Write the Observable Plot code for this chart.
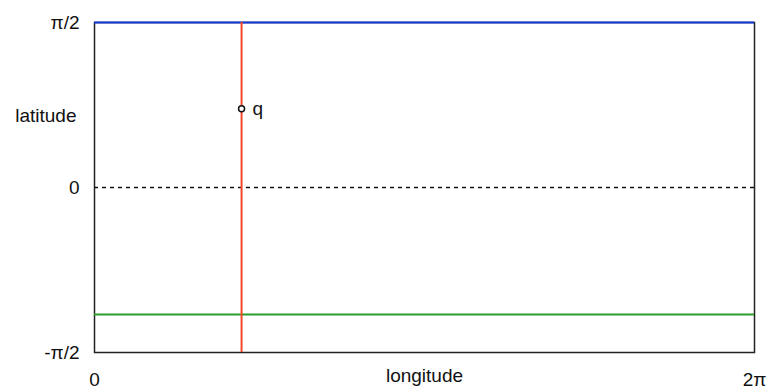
<!DOCTYPE html>
<html>
<head>
<meta charset="utf-8">
<script src="https://cdn.jsdelivr.net/npm/d3@7"></script>
<script src="https://cdn.jsdelivr.net/npm/@observablehq/plot@0.6"></script>
<style>
  html, body { margin: 0; padding: 0; background: #fff; }
  #chart svg { display: block; }
</style>
</head>
<body>
<div id="chart"></div>
<script>
const PI = Math.PI;
// tick values and labels
const xTicks = [0, 2 * PI];
const xTickLabels = ["0", "2π"];
const yTicks = [-PI / 2, 0, PI / 2];
const yTickLabels = ["-π/2", "0", "π/2"];
// reference lines
const topLat = [PI / 2];        // blue
const zeroLat = [0];            // dashed
const lowLat = [-1.21];         // green
const meridianLon = [1.4];      // red
// point q
const points = [{lon: 1.4, lat: 0.75, name: "q"}];
// axis titles
const axisTitles = [
  {axis: "y", text: "latitude", lat: 0.685},
  {axis: "x", text: "longitude", lon: PI}
];

const font = "'Liberation Sans', Arial, Helvetica, sans-serif";
const fs = 19;

const chart = Plot.plot({
  width: 768,
  height: 392,
  marginLeft: 94,
  marginRight: 14,
  marginTop: 22,
  marginBottom: 40,
  style: {fontFamily: font, fontSize: fs + "px", background: "#fff", color: "#111"},
  x: {domain: [0, 2 * PI]},
  y: {domain: [-PI / 2, PI / 2]},
  marks: [
    Plot.frame({stroke: "#222", strokeWidth: 1.5}),
    Plot.axisX(xTicks, {tickSize: 0, tickPadding: 20, tickFormat: (d, i) => xTickLabels[i], fontSize: fs, label: null}),
    Plot.axisY(yTicks, {tickSize: 0, tickPadding: 15, tickFormat: (d, i) => yTickLabels[i], fontSize: fs, label: null}),
    Plot.ruleY(zeroLat, {stroke: "#111", strokeWidth: 1.3, strokeDasharray: "4,4"}),
    Plot.ruleY(lowLat, {stroke: "#2e9a2e", strokeWidth: 2}),
    Plot.ruleY(topLat, {stroke: "#1537d4", strokeWidth: 2}),
    Plot.ruleX(meridianLon, {stroke: "#f4472a", strokeWidth: 2}),
    Plot.dot(points, {x: "lon", y: "lat", r: 3, stroke: "#111", fill: "#fff", strokeWidth: 1.5}),
    Plot.text(points, {x: "lon", y: "lat", text: "name", dx: 11, textAnchor: "start", fontSize: fs, fill: "#111"}),
    Plot.text(axisTitles.filter(d => d.axis === "y"), {x: () => 0, y: "lat", text: "text", dx: -18, textAnchor: "end", fontSize: fs, fill: "#111"}),
    Plot.text(axisTitles.filter(d => d.axis === "x"), {x: "lon", frameAnchor: "bottom", dy: 29, text: "text", fontSize: fs, fill: "#111"})
  ]
});
document.getElementById("chart").appendChild(chart);
</script>
</body>
</html>
